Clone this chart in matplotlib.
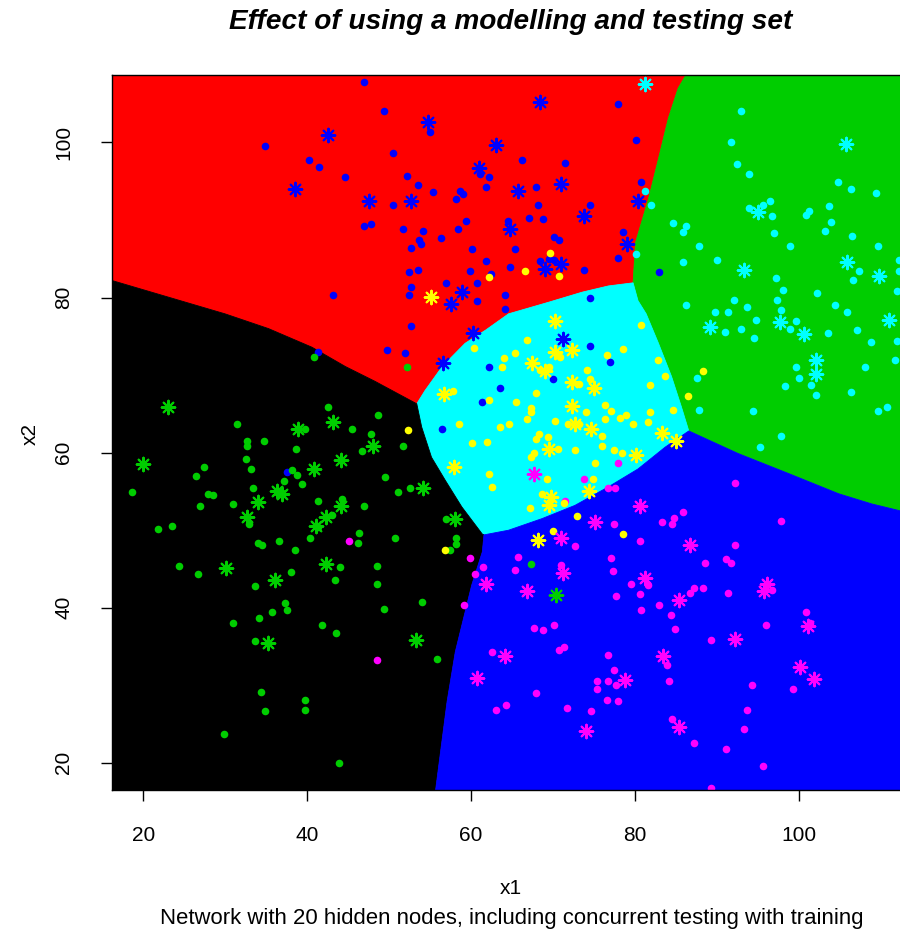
import matplotlib
matplotlib.use("Agg")
import matplotlib.pyplot as plt
from matplotlib.patches import Polygon
import numpy as np

plt.rcParams['font.family'] = ['Liberation Sans', 'DejaVu Sans']

# ---- decision-region boundaries (x1, x2) ----
edge_red_black = [(10.0, 83.0), (16.2, 82.2), (30.0, 77.9), (35.3, 76.0), (40.6, 73.6),
                  (44.7, 71.1), (48.3, 69.2), (53.4, 66.3)]
edge_red_cyan = [(53.4, 66.3), (54.4, 68.0), (56.5, 71.1), (59.3, 74.1), (61.8, 75.8),
                 (64.6, 77.9), (69.5, 79.4), (73.6, 80.7), (76.8, 81.5), (79.8, 81.9)]
edge_red_green = [(79.8, 81.9), (80.1, 87.1), (81.7, 92.8), (82.9, 97.9), (84.1, 103.1),
                  (85.3, 107.0), (86.2, 108.6), (87.5, 115.0)]
edge_green_cyan = [(79.8, 81.9), (80.4, 79.6), (81.4, 77.9), (82.9, 74.1), (84.5, 69.8),
                   (85.7, 65.9), (86.6, 62.8)]
edge_green_blue = [(86.6, 62.8), (92.6, 59.9), (98.8, 57.3), (104.9, 54.7), (108.9, 53.4),
                   (112.4, 52.5), (120.0, 51.0)]
edge_cyan_blue = [(86.6, 62.8), (83.7, 60.7), (81.7, 59.0), (80.4, 57.9), (76.8, 55.6),
                  (72.7, 53.2), (68.7, 51.5), (64.6, 50.0), (61.6, 49.4)]
edge_cyan_black = [(53.4, 66.3), (54.0, 63.3), (55.2, 59.4), (56.9, 56.4), (58.9, 53.0),
                   (61.4, 49.5), (61.6, 49.4)]
edge_black_blue = [(61.6, 49.4), (61.4, 47.2), (60.1, 42.9), (59.1, 38.6), (58.1, 34.3),
                   (57.1, 27.9), (56.3, 21.4), (55.7, 16.5), (55.2, 10.0)]
outer_corners = {"bl": (10.0, 10.0), "br": (120.0, 10.0), "tr": (120.0, 115.0), "tl": (10.0, 115.0)}

# ---- observations: training (dots) and testing (asterisks) per class ----
blue_train = [(46.9, 107.8), (34.9, 99.6), (40.2, 97.8), (41.5, 96.8), (44.6, 95.5), (46.9, 89.2),
              (47.8, 89.5), (43.2, 80.3), (49.4, 104.1), (77.9, 105.0), (55.0, 101.3), (80.1, 100.3),
              (50.5, 98.7), (66.2, 97.8), (71.5, 97.4), (52.2, 95.7), (61.1, 95.9), (62.2, 95.5),
              (53.6, 94.5), (55.4, 93.6), (58.7, 93.8), (59.1, 93.3), (58.2, 92.7), (61.9, 94.2),
              (67.9, 94.2), (50.5, 92.0), (68.2, 92.0), (74.6, 92.0), (59.4, 89.9), (67.1, 90.3),
              (68.8, 90.1), (64.5, 89.9), (51.7, 88.9), (54.2, 88.6), (58.4, 88.9), (56.3, 87.7),
              (53.7, 87.4), (53.9, 86.9), (52.7, 86.4), (60.1, 86.2), (65.4, 86.2), (70.2, 87.8),
              (70.7, 87.4), (78.6, 88.4), (61.8, 84.7), (64.8, 84.0), (68.4, 84.7), (69.5, 85.0),
              (70.1, 84.9), (78.0, 85.1), (73.8, 83.6), (52.4, 83.3), (53.5, 83.6), (59.9, 83.4),
              (62.4, 83.0), (52.7, 81.4), (57.0, 81.9), (60.7, 81.9), (52.4, 80.3), (60.7, 79.5),
              (64.2, 80.3), (64.2, 78.5), (74.6, 80.0), (80.8, 94.9), (83.0, 83.3), (41.3, 73.0),
              (37.5, 57.5), (52.7, 76.3), (49.8, 73.2), (52.0, 72.9), (62.2, 71.0), (63.5, 68.3),
              (61.4, 66.5), (70.0, 69.5), (74.6, 73.7), (77.0, 71.7), (56.5, 63.1)]
blue_test = [(42.6, 100.9), (38.5, 94.0), (47.6, 92.5), (68.4, 105.2), (54.8, 102.7), (63.1, 99.7),
             (61.0, 96.7), (65.8, 93.8), (71.0, 94.7), (52.7, 92.5), (73.8, 90.5), (64.8, 88.9),
             (79.1, 86.9), (69.1, 83.7), (71.0, 84.3), (58.9, 80.7), (57.6, 79.2), (80.4, 92.5),
             (60.3, 75.4), (71.3, 74.7), (56.6, 71.6)]

cyan_train = [(80.1, 85.6), (81.2, 93.8), (82.0, 92.0), (93.0, 104.0), (91.8, 100.0), (92.5, 97.2),
              (93.9, 95.9), (104.8, 94.9), (106.4, 94.0), (109.5, 93.5), (96.5, 92.5), (95.6, 92.0),
              (93.9, 91.6), (96.7, 90.5), (101.3, 91.2), (100.9, 90.7), (103.7, 91.8), (104.0, 89.7),
              (103.2, 88.6), (106.5, 88.0), (109.7, 86.7), (84.7, 89.6), (86.3, 89.2), (85.9, 88.4),
              (97.0, 88.3), (99.0, 86.7), (87.8, 86.7), (85.9, 84.6), (90.0, 84.9), (112.3, 84.9),
              (97.2, 82.5), (107.4, 83.4), (106.7, 82.3), (112.2, 83.4), (98.1, 81.0), (102.3, 80.6),
              (112.0, 80.8), (92.1, 79.7), (97.4, 79.7), (86.3, 79.1), (93.7, 78.8), (104.5, 79.0),
              (97.9, 78.4), (89.8, 78.1), (91.4, 78.1), (105.9, 78.1), (94.8, 77.1), (91.0, 75.6),
              (93.0, 76.0), (94.6, 74.8), (99.0, 76.0), (99.7, 77.0), (103.6, 75.4), (107.1, 75.8),
              (108.8, 74.3), (112.0, 74.4), (111.8, 71.9), (108.1, 71.1), (99.7, 71.1), (100.1, 69.6),
              (101.5, 68.7), (102.1, 67.4), (98.3, 68.6), (106.4, 67.8), (109.7, 65.4), (110.8, 65.9),
              (94.4, 65.4), (97.9, 62.2), (95.3, 60.7), (87.9, 65.5), (87.6, 69.6)]
cyan_test = [(81.3, 107.6), (105.8, 99.8), (95.1, 91.0), (93.3, 83.6), (105.9, 84.6), (109.8, 82.8),
             (89.2, 76.2), (97.7, 76.8), (100.7, 75.3), (111.0, 77.1), (102.1, 71.9), (102.1, 70.2)]

green_train = [(40.9, 72.4), (42.6, 65.9), (31.4, 63.7), (39.8, 63.1), (45.5, 63.1), (47.8, 62.4),
               (32.7, 61.5), (32.7, 60.9), (34.8, 61.5), (38.6, 60.5), (46.7, 60.2), (32.5, 59.2),
               (27.4, 58.1), (26.5, 57.0), (33.2, 57.9), (38.2, 57.7), (38.8, 57.1), (37.2, 56.4),
               (39.4, 55.9), (33.4, 55.5), (18.6, 54.9), (27.9, 54.7), (28.5, 54.5), (26.9, 53.1),
               (31.0, 53.4), (41.3, 53.8), (44.3, 54.0), (46.9, 53.1), (43.1, 52.0), (41.3, 50.4),
               (46.4, 49.7), (46.2, 48.4), (40.4, 49.0), (36.6, 48.6), (34.0, 48.3), (34.5, 48.1),
               (23.5, 50.6), (21.8, 50.1), (32.9, 50.8), (38.5, 47.4), (24.4, 45.4), (26.7, 44.3),
               (33.6, 42.8), (38.1, 44.6), (44.0, 45.3), (43.4, 43.6), (37.3, 40.6), (37.6, 39.7),
               (35.7, 39.5), (34.1, 38.7), (31.0, 38.0), (41.8, 37.8), (43.6, 36.7), (33.7, 35.7),
               (34.4, 29.1), (34.9, 26.7), (39.7, 28.1), (39.7, 26.8), (29.9, 23.7), (43.9, 20.0),
               (67.3, 45.6), (48.5, 45.4), (48.5, 43.1), (54.0, 40.8), (49.4, 39.8), (55.9, 33.4),
               (52.2, 71.1), (48.7, 64.8), (51.7, 60.9), (49.5, 56.8), (51.1, 54.9), (52.6, 55.5),
               (57.0, 51.4), (58.2, 49.0), (58.2, 48.2), (50.8, 49.0), (57.5, 47.5)]
green_test = [(23.0, 65.9), (20.0, 58.5), (38.9, 63.0), (43.2, 63.9), (44.1, 59.1), (40.9, 57.9),
              (48.0, 60.9), (36.4, 55.1), (37.0, 54.7), (34.0, 53.6), (32.7, 51.7), (42.3, 51.7),
              (41.1, 50.6), (44.1, 53.1), (30.1, 45.1), (36.1, 43.6), (42.3, 45.6), (35.3, 35.4),
              (70.4, 41.6), (53.3, 35.8), (54.2, 55.5), (58.1, 51.5)]

magenta_train = [(88.6, 45.8), (91.2, 46.3), (91.8, 45.8), (81.6, 42.9), (80.6, 41.8), (87.2, 42.5),
                 (86.8, 41.9), (88.3, 42.5), (91.4, 41.9), (96.8, 42.3), (83.0, 40.3), (80.8, 39.7),
                 (84.4, 39.1), (84.9, 37.2), (89.3, 35.8), (96.0, 37.8), (100.9, 39.5), (101.4, 38.0),
                 (83.9, 32.6), (84.2, 30.5), (94.3, 30.0), (99.3, 29.5), (93.7, 26.8), (93.3, 24.4),
                 (84.5, 25.6), (87.2, 22.6), (91.2, 21.8), (95.6, 19.6), (89.3, 16.7), (92.2, 56.1),
                 (85.9, 52.3), (84.8, 51.6), (84.6, 50.8), (83.3, 51.0), (97.9, 51.2), (92.2, 48.1),
                 (80.6, 48.6), (59.9, 46.4), (61.5, 45.3), (60.5, 44.4), (59.2, 40.3), (65.7, 46.6),
                 (65.4, 44.9), (71.0, 45.5), (77.1, 46.4), (77.3, 44.7), (79.5, 43.1), (77.7, 41.5),
                 (67.7, 37.4), (68.8, 37.1), (70.1, 37.8), (62.6, 34.3), (71.4, 35.0), (70.8, 34.5),
                 (76.8, 33.9), (77.5, 32.0), (75.4, 30.5), (75.4, 29.5), (76.8, 30.5), (77.7, 30.1),
                 (68.0, 29.0), (64.3, 27.4), (63.1, 26.8), (71.7, 27.1), (74.7, 26.7), (76.6, 28.1),
                 (77.9, 28.0), (48.5, 33.3), (77.9, 58.7), (73.8, 56.6), (76.8, 55.4), (77.6, 55.4),
                 (71.5, 53.8), (77.5, 50.8), (72.7, 48.0), (45.1, 48.6)]
magenta_test = [(81.3, 43.9), (96.1, 43.0), (95.8, 42.2), (85.4, 41.0), (92.2, 36.0), (101.1, 37.7),
                (83.5, 33.8), (100.2, 32.3), (101.9, 30.8), (85.4, 24.6), (80.6, 53.1), (86.7, 48.1),
                (61.9, 43.1), (66.8, 42.2), (71.2, 44.5), (64.2, 33.8), (60.7, 31.0), (78.8, 30.7),
                (74.0, 24.1), (67.7, 57.2), (75.2, 51.1), (71.0, 49.0)]

yellow_train = [(69.6, 85.8), (66.6, 83.4), (62.2, 82.6), (70.8, 82.8), (80.8, 76.4), (82.8, 72.0),
                (83.7, 69.9), (81.9, 68.7), (88.3, 70.5), (86.5, 67.3), (84.7, 65.5), (81.9, 65.2),
                (81.6, 64.0), (66.8, 74.5), (60.4, 73.5), (65.4, 72.9), (64.0, 72.2), (63.8, 71.1),
                (70.9, 72.3), (69.5, 71.1), (68.5, 70.6), (74.2, 70.7), (74.6, 69.5), (76.6, 72.6),
                (78.6, 73.4), (73.2, 68.9), (57.8, 68.0), (62.2, 66.8), (68.0, 67.7), (65.5, 66.5),
                (67.3, 65.8), (67.3, 65.2), (66.8, 64.4), (70.3, 64.1), (58.5, 63.7), (63.6, 63.3),
                (64.7, 63.7), (71.8, 63.7), (73.2, 63.7), (74.0, 65.3), (76.4, 66.2), (77.1, 65.4),
                (76.4, 64.4), (78.2, 64.5), (78.9, 64.8), (79.8, 63.7), (60.1, 61.3), (62.0, 61.4),
                (68.3, 62.4), (68.0, 61.8), (69.4, 62.0), (70.6, 60.5), (67.7, 60.0), (67.4, 59.4),
                (72.7, 60.3), (76.0, 62.2), (76.0, 60.8), (77.5, 60.4), (78.5, 59.9), (75.2, 58.7),
                (52.3, 62.9), (62.2, 57.2), (69.3, 56.6), (74.9, 56.6), (62.6, 55.6), (68.7, 54.7),
                (71.4, 53.5), (67.2, 52.8), (72.9, 51.8), (70.0, 49.9), (78.6, 49.5), (56.8, 47.4)]
yellow_test = [(55.1, 80.1), (83.3, 62.5), (85.0, 61.5), (70.3, 77.0), (70.3, 73.0), (72.3, 73.2),
               (67.5, 71.6), (69.0, 70.5), (72.3, 69.1), (75.0, 68.4), (56.7, 67.6), (72.3, 66.0),
               (72.7, 63.7), (74.7, 63.0), (69.5, 60.5), (58.0, 58.2), (74.4, 55.1), (69.8, 54.3),
               (69.5, 53.3), (68.2, 48.8), (80.1, 59.7)]

x_ticks = [20, 40, 60, 80, 100]
y_ticks = [20, 40, 60, 80, 100]

title_text = "Effect of using a modelling and testing set"
subtitle_text = "Network with 20 hidden nodes, including concurrent testing with training"

# ---- colours ----
COL_RED = "#FF0000"
COL_GREEN = "#00CD00"
COL_BLACK = "#000000"
COL_BLUE = "#0000FF"
COL_CYAN = "#00FFFF"
COL_MAGENTA = "#FF00FF"
COL_YELLOW = "#FFFF00"

fig = plt.figure(figsize=(9.0, 9.3), dpi=100)
W, H = 900.0, 930.0
ax = fig.add_axes([112 / W, (H - 790) / H, (910 - 112) / W, (790 - 75) / H])
ax.set_xlim(16.2, 113.6)
ax.set_ylim(16.5, 108.7)

# region polygons assembled from the shared boundaries
red_poly = [outer_corners["tl"]] + edge_red_black + edge_red_cyan[1:] + edge_red_green[1:]
green_poly = edge_red_green[::-1] + edge_green_cyan[1:] + edge_green_blue[1:] + [outer_corners["tr"]]
cyan_poly = edge_red_cyan + edge_green_cyan[1:] + edge_cyan_blue[1:] + edge_cyan_black[::-1][1:-1]
black_poly = edge_red_black + edge_cyan_black[1:] + edge_black_blue[1:] + [outer_corners["bl"]]
blue_poly = edge_black_blue + [outer_corners["br"]] + edge_green_blue[::-1] + edge_cyan_blue[1:-1]

for poly, col in [(red_poly, COL_RED), (green_poly, COL_GREEN), (cyan_poly, COL_CYAN),
                  (black_poly, COL_BLACK), (blue_poly, COL_BLUE)]:
    ax.add_patch(Polygon(poly, closed=True, facecolor=col, edgecolor=col,
                         linewidth=0.6, zorder=1))

def draw_points(pts, col, test):
    arr = np.array(pts)
    if test:
        ax.scatter(arr[:, 0], arr[:, 1], marker=(8, 2, 0), s=95, color=col,
                   linewidths=1.5, zorder=4)
    else:
        ax.scatter(arr[:, 0], arr[:, 1], marker='o', s=30, color=col,
                   linewidths=0, zorder=3)

for train, test, col in [(blue_train, blue_test, COL_BLUE),
                         (cyan_train, cyan_test, COL_CYAN),
                         (green_train, green_test, COL_GREEN),
                         (magenta_train, magenta_test, COL_MAGENTA),
                         (yellow_train, yellow_test, COL_YELLOW)]:
    draw_points(train, col, False)
    draw_points(test, col, True)

for sp in ax.spines.values():
    sp.set_linewidth(1.0)
    sp.set_color("black")
    sp.set_zorder(5)

ax.set_xticks(x_ticks)
ax.set_yticks(y_ticks)
ax.set_xticklabels([str(v) for v in x_ticks])
ax.set_yticklabels([str(v) for v in y_ticks], rotation=90, va="center")
ax.tick_params(axis="x", length=8, width=1, labelsize=15, pad=18)
ax.tick_params(axis="y", length=8, width=1, labelsize=15, pad=20)

fig.text(511 / W, 1 - 22 / H, title_text, ha="center", va="center",
         fontsize=20.2, fontweight="bold", fontstyle="italic")
fig.text(511 / W, 1 - 888 / H, "x1", ha="center", va="center", fontsize=15)
fig.text(512 / W, 1 - 918 / H, subtitle_text, ha="center", va="center", fontsize=15.9)
fig.text(30 / W, 1 - 434 / H, "x2", ha="center", va="center", fontsize=15, rotation=90)

fig.savefig("out.png", dpi=100)
